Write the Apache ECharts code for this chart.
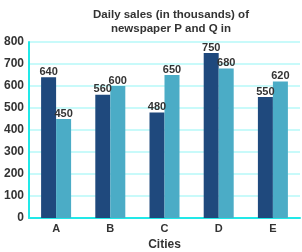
<!DOCTYPE html>
<html><head><meta charset="utf-8">
<script src="https://cdn.jsdelivr.net/npm/echarts@6/dist/echarts.min.js"></script>
<style>html,body{margin:0;padding:0;background:#fff}#c{width:302px;height:252px}</style>
</head><body><div id="c"></div>
<script>
const categories = ['A','B','C','D','E'];
const seriesP = [640,560,480,750,550];
const seriesQ = [450,600,650,680,620];
const yTicks = [0,100,200,300,400,500,600,700,800];
const chart = echarts.init(document.getElementById('c'));
const lbl = {show:true, position:'top', distance:0, color:'#333', fontSize:11, fontWeight:'bold', fontFamily:'Liberation Sans, Arial'};
chart.setOption({
  animation:false,
  title:{text:'Daily sales (in thousands) of\nnewspaper P and Q in', left:166, textAlign:'center', top:3,
    textStyle:{fontSize:11.5, fontWeight:'bold', color:'#333', fontFamily:'Liberation Sans, Arial', lineHeight:14}},
  grid:{left:29, right:2, top:42, bottom:34, outerBoundsMode:'none', containLabel:false},
  xAxis:{type:'category', data:categories, name:'Cities', nameLocation:'middle', nameGap:21,
    nameTextStyle:{fontSize:12, fontWeight:'bold', color:'#333', fontFamily:'Liberation Sans, Arial'},
    axisLine:{lineStyle:{color:'#22e8e8', width:2}}, axisTick:{show:false},
    axisLabel:{fontSize:11, fontWeight:'bold', color:'#333', margin:5, fontFamily:'Liberation Sans, Arial'}},
  yAxis:{type:'value', min:yTicks[0], max:yTicks[yTicks.length-1], interval:100,
    axisLine:{show:true, lineStyle:{color:'#22e8e8', width:2}}, axisTick:{show:false},
    splitLine:{lineStyle:{color:'#c8fafa', width:2}},
    axisLabel:{fontSize:12, fontWeight:'bold', color:'#333', margin:5, fontFamily:'Liberation Sans, Arial'}},
  series:[
    {type:'bar', data:seriesP, barWidth:15, barGap:'0%', itemStyle:{color:'#1f497d'}, label:lbl},
    {type:'bar', data:seriesQ, barWidth:15, barGap:'0%', itemStyle:{color:'#4bacc6'}, label:lbl}
  ]
});
</script></body></html>
